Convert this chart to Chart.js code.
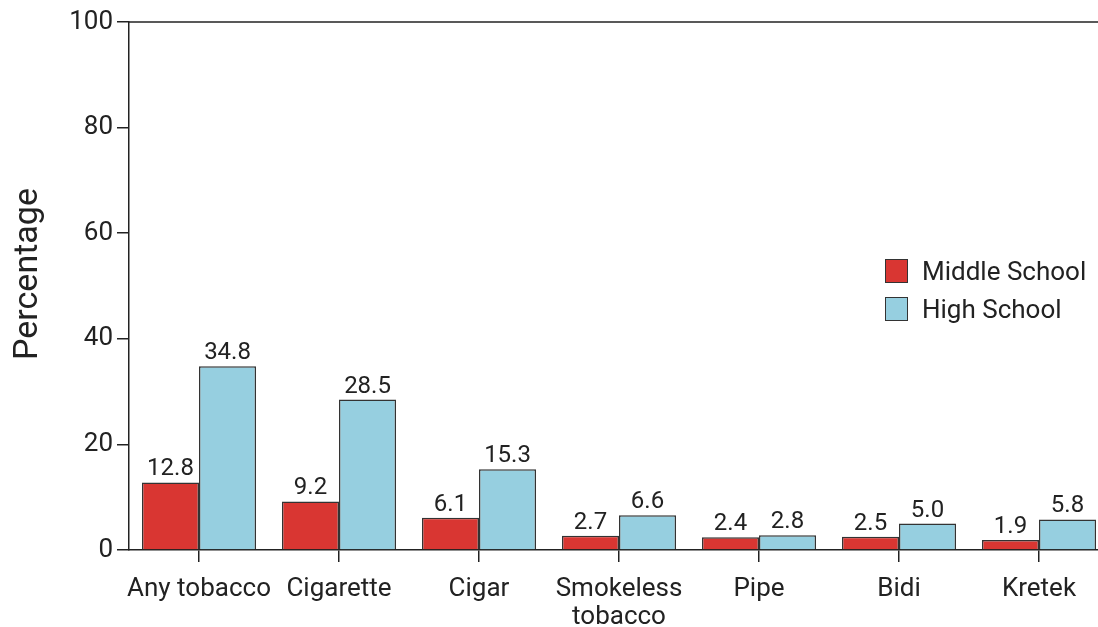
<!DOCTYPE html>
<html lang="en">
<head>
<meta charset="UTF-8">
<title>Tobacco use by school level</title>
<script src="https://cdn.jsdelivr.net/npm/chart.js"></script>
<style>
    body {
        margin: 0;
        background: #fff;
        overflow: hidden;
        font-family: Roboto, Arial, sans-serif;
    }
    .wrap {
        position: relative;
        width: 1098px;
        height: 627px;
        overflow: hidden;
    }
    #chart {
        position: absolute;
        left: 0;
        top: 0;
    }
    .legend {
        position: absolute;
        left: 885px;
        top: 252px;
        color: #222;
        font-size: 26px;
    }
    .legend div {
        height: 38px;
        display: flex;
        align-items: center;
    }
    .legend span.box {
        display: inline-block;
        width: 23px;
        height: 24px;
        border: 1.5px solid #333;
        box-sizing: border-box;
        margin-right: 14px;
    }
</style>
</head>
<body>
<div class="wrap">
    <canvas id="chart" width="1112" height="627"></canvas>
    <div class="legend">
        <div><span class="box" style="background:#d93632"></span>Middle School</div>
        <div><span class="box" style="background:#96cfe0"></span>High School</div>
    </div>
</div>

<script>
const categories = ['Any tobacco', 'Cigarette', 'Cigar', ['Smokeless', 'tobacco'], 'Pipe', 'Bidi', 'Kretek'];
const middleSchool = [12.8, 9.2, 6.1, 2.7, 2.4, 2.5, 1.9];
const highSchool = [34.8, 28.5, 15.3, 6.6, 2.8, 5.0, 5.8];
const yTicks = [0, 20, 40, 60, 80, 100];
const yTitle = 'Percentage';

const ink = '#222';
const fam = 'Roboto, Arial, sans-serif';

// valores encima de cada barra, linea superior del marco y titulo del eje y
const extras = {
    id: 'extras',
    afterDatasetsDraw(chart) {
        const ctx = chart.ctx;
        ctx.save();
        ctx.font = '24px ' + fam;
        ctx.fillStyle = ink;
        ctx.textAlign = 'center';
        ctx.textBaseline = 'bottom';
        chart.data.datasets.forEach((ds, i) => {
            chart.getDatasetMeta(i).data.forEach((bar, j) => {
                ctx.fillText(ds.data[j].toFixed(1), bar.x, bar.y - 1);
            });
        });
        const a = chart.chartArea;
        ctx.strokeStyle = ink;
        ctx.lineWidth = 1.5;
        ctx.beginPath();
        ctx.moveTo(a.left, a.top);
        ctx.lineTo(a.right, a.top);
        ctx.stroke();

        ctx.translate(28, 274);
        ctx.rotate(-Math.PI / 2);
        ctx.font = '34px ' + fam;
        ctx.textBaseline = 'middle';
        ctx.fillText(yTitle, 0, 0);
        ctx.restore();
    }
};

new Chart(document.getElementById('chart'), {
    type: 'bar',
    data: {
        labels: categories,
        datasets: [{
            label: 'Middle School',
            data: middleSchool,
            backgroundColor: '#d93632',
            borderColor: '#333',
            borderWidth: 1.5,
            borderSkipped: 'bottom'
        }, {
            label: 'High School',
            data: highSchool,
            backgroundColor: '#96cfe0',
            borderColor: '#333',
            borderWidth: 1.5,
            borderSkipped: 'bottom'
        }]
    },
    options: {
        responsive: false,
        animation: false,
        layout: { padding: { top: 22, right: 3, left: 0, bottom: 0 } },
        datasets: { bar: { categoryPercentage: 0.815, barPercentage: 1 } },
        plugins: { legend: { display: false }, tooltip: { enabled: false } },
        scales: {
            x: {
                grid: { offset: false, drawOnChartArea: false, color: ink, tickLength: 12, lineWidth: 1.5 },
                border: { color: ink, width: 1.5 },
                ticks: { color: ink, font: { size: 26, family: fam, lineHeight: 1.1 }, padding: 13, maxRotation: 0, autoSkip: false },
                afterFit(scale) { scale.height = 77; }
            },
            y: {
                min: 0,
                max: 100,
                afterBuildTicks(scale) { scale.ticks = yTicks.map(v => ({ value: v })); },
                grid: { drawOnChartArea: false, color: ink, tickLength: 12, lineWidth: 1.5 },
                border: { color: ink, width: 1.5 },
                ticks: { color: ink, font: { size: 26, family: fam }, padding: 4 },
                afterFit(scale) { scale.width = 129; }
            }
        }
    },
    plugins: [extras]
});
</script>
</body>
</html>
